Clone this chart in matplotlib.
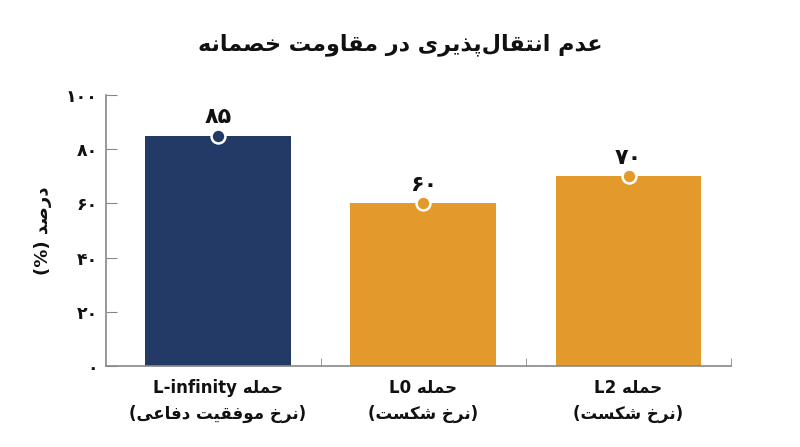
import matplotlib
matplotlib.use('Agg')
import matplotlib.pyplot as plt

plt.rcParams['font.family'] = ['DejaVu Sans']

title = 'عدم انتقال\u200cپذیری در مقاومت خصمانه'
ylabel = 'درصد (%)'
categories = ['حمله L-infinity\n(نرخ موفقیت دفاعی)', 'حمله L0\n(نرخ شکست)', 'حمله L2\n(نرخ شکست)']
values = [85, 60, 70]
colors = ['#233a66', '#e39a2b', '#e39a2b']
yticks = [0, 20, 40, 60, 80, 100]

# presentation forms: isolated, final, initial, medial (None = no left join)
FORMS = {
    'ا': ('\uFE8D', '\uFE8E', None, None),
    'پ': ('\uFB56', '\uFB57', '\uFB58', '\uFB59'),
    'ت': ('\uFE95', '\uFE96', '\uFE97', '\uFE98'),
    'ح': ('\uFEA1', '\uFEA2', '\uFEA3', '\uFEA4'),
    'خ': ('\uFEA5', '\uFEA6', '\uFEA7', '\uFEA8'),
    'د': ('\uFEA9', '\uFEAA', None, None),
    'ذ': ('\uFEAB', '\uFEAC', None, None),
    'ر': ('\uFEAD', '\uFEAE', None, None),
    'س': ('\uFEB1', '\uFEB2', '\uFEB3', '\uFEB4'),
    'ش': ('\uFEB5', '\uFEB6', '\uFEB7', '\uFEB8'),
    'ص': ('\uFEB9', '\uFEBA', '\uFEBB', '\uFEBC'),
    'ع': ('\uFEC9', '\uFECA', '\uFECB', '\uFECC'),
    'ف': ('\uFED1', '\uFED2', '\uFED3', '\uFED4'),
    'ق': ('\uFED5', '\uFED6', '\uFED7', '\uFED8'),
    'ک': ('\uFB8E', '\uFB8F', '\uFB90', '\uFB91'),
    'ل': ('\uFEDD', '\uFEDE', '\uFEDF', '\uFEE0'),
    'م': ('\uFEE1', '\uFEE2', '\uFEE3', '\uFEE4'),
    'ن': ('\uFEE5', '\uFEE6', '\uFEE7', '\uFEE8'),
    'ه': ('\uFEE9', '\uFEEA', '\uFEEB', '\uFEEC'),
    'و': ('\uFEED', '\uFEEE', None, None),
    'ی': ('\uFBFC', '\uFBFD', '\uFBFE', '\uFBFF'),
}
LTR = set('ABCDEFGHIJKLMNOPQRSTUVWXYZabcdefghijklmnopqrstuvwxyz0123456789-.۰۱۲۳۴۵۶۷۸۹')
MIRROR = {'(': ')', ')': '('}


def shape(s):
    out = []
    for i, ch in enumerate(s):
        if ch not in FORMS:
            out.append(ch)
            continue
        prev = s[i - 1] if i > 0 else ''
        nxt = s[i + 1] if i + 1 < len(s) else ''
        join_prev = prev in FORMS and FORMS[prev][2] is not None
        join_next = nxt in FORMS and FORMS[ch][2] is not None
        f = FORMS[ch]
        if join_prev and join_next:
            out.append(f[3])
        elif join_prev:
            out.append(f[1])
        elif join_next:
            out.append(f[2])
        else:
            out.append(f[0])
    return ''.join(c for c in out if c != '\u200c')


def fa(text):
    lines = []
    for line in text.split('\n'):
        s = shape(line)
        runs, cur, cur_ltr = [], '', None
        for ch in s:
            is_ltr = ch in LTR
            if cur and is_ltr != cur_ltr:
                runs.append((cur, cur_ltr))
                cur = ''
            cur += ch
            cur_ltr = is_ltr
        if cur:
            runs.append((cur, cur_ltr))
        vis = ''
        for r, is_ltr in reversed(runs):
            if is_ltr:
                vis += r
            else:
                vis += ''.join(MIRROR.get(c, c) for c in reversed(r))
        lines.append(vis)
    return '\n'.join(lines)


def fa_num(n):
    return str(n).translate(str.maketrans('0123456789', '۰۱۲۳۴۵۶۷۸۹'))


fig = plt.figure(figsize=(8, 4.47), dpi=100)
ax = fig.add_axes([0.1325, 0.181, 0.7815, 0.6065])

x = list(range(len(categories)))
ax.bar(x, values, width=0.71, color=colors, zorder=2)
for xi, v, c in zip(x, values, colors):
    ax.plot(xi, v, 'o', ms=10, mfc=c, mec='white', mew=1.8, zorder=3, clip_on=False)
    ax.text(xi, v + 3.2, fa_num(v), ha='center', va='bottom', fontsize=16,
            fontweight='bold', color='#111111')

ax.set_xlim(-0.545, 2.5)
ax.set_ylim(0, 100)
ax.set_xticks(x)
ax.set_xticklabels([fa(c) for c in categories], fontsize=12, fontweight='bold',
                   color='#111111', linespacing=1.6)
ax.tick_params(axis='x', which='major', length=0, pad=9)
ax.set_xticks([0.5, 1.5, 2.5], minor=True)
ax.tick_params(axis='x', which='minor', direction='in', length=6, color='#888888')

ax.set_yticks(yticks)
ax.set_yticklabels([fa_num(t) for t in yticks], fontsize=12.5, fontweight='bold', color='#111111')
ax.tick_params(axis='y', direction='in', length=8, color='#888888', pad=6)

for side in ['top', 'right']:
    ax.spines[side].set_visible(False)
for side in ['left', 'bottom']:
    ax.spines[side].set_color('#888888')
    ax.spines[side].set_linewidth(1.2)

ax.set_ylabel(fa(ylabel), fontsize=13, fontweight='bold', color='#111111', labelpad=10)
fig.text(0.5, 0.9, fa(title), ha='center', va='center', fontsize=16,
         fontweight='bold', color='#111111')

fig.savefig('out.png', dpi=100)
